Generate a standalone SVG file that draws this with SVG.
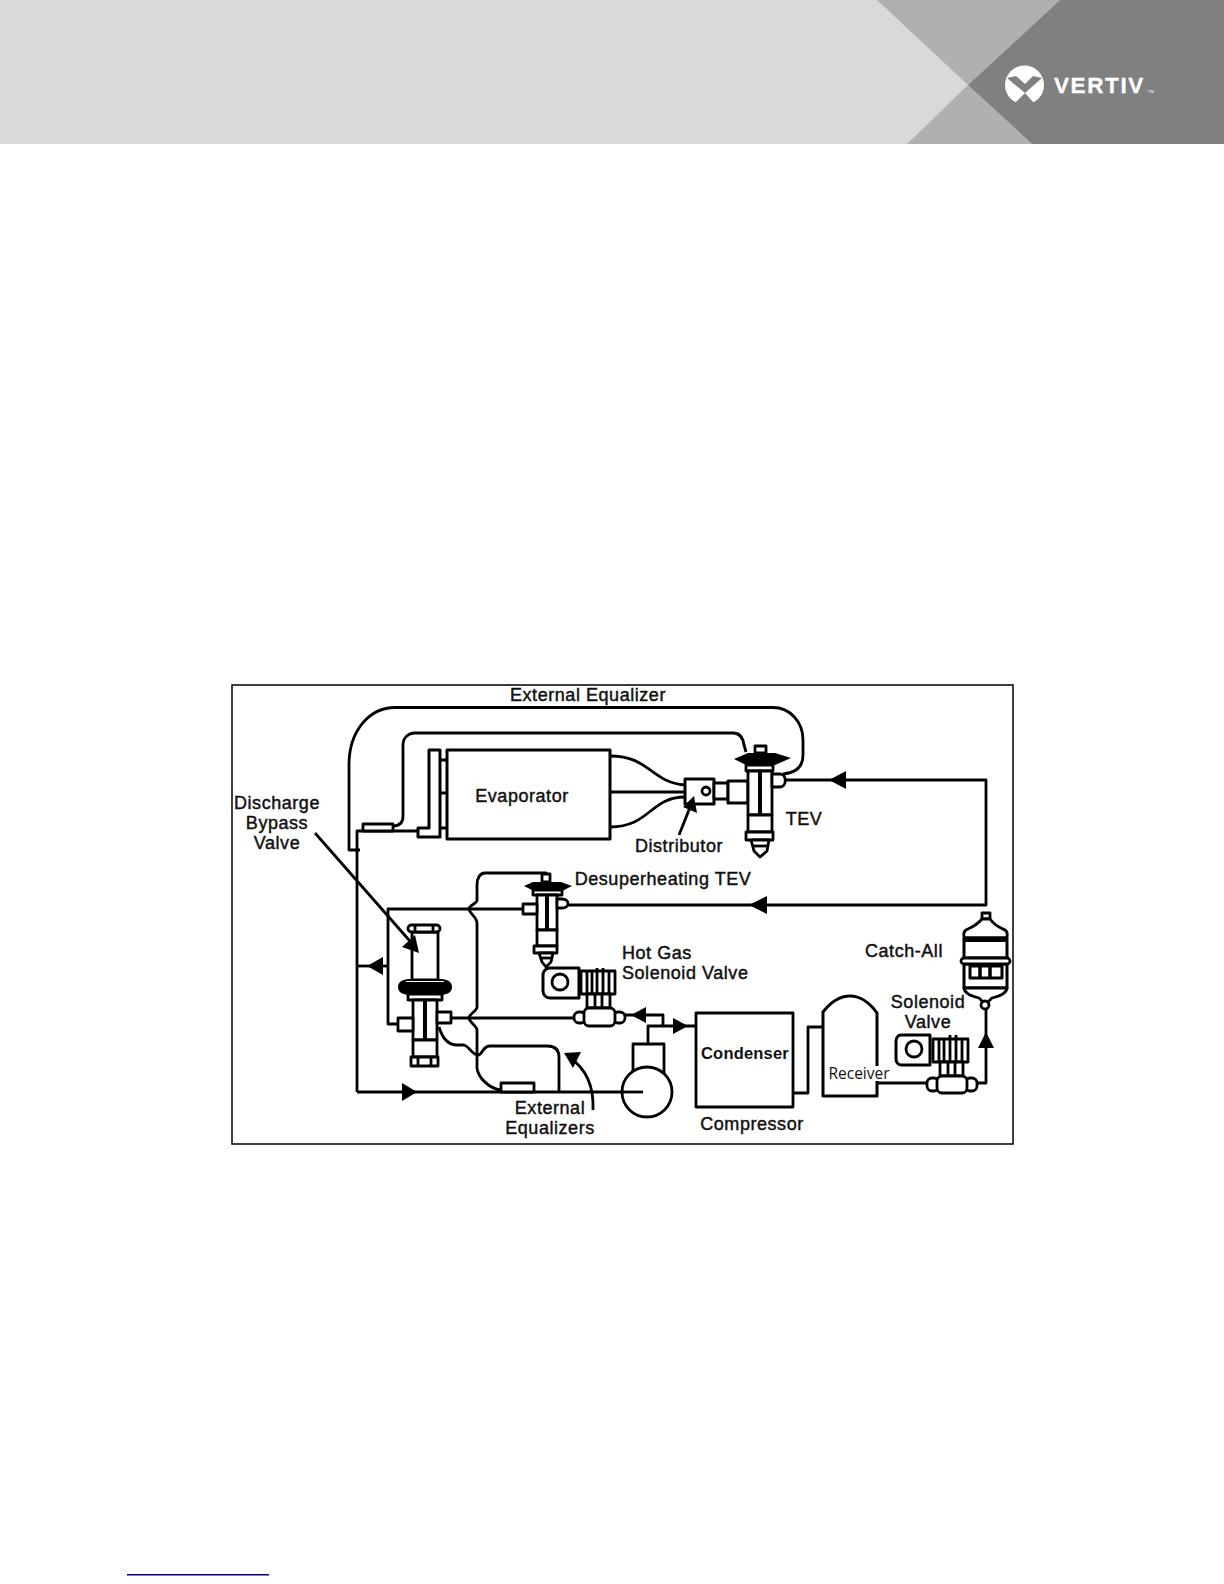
<svg xmlns="http://www.w3.org/2000/svg" width="1224" height="1584" viewBox="0 0 1224 1584">
<defs><style>
.l{fill:none;stroke:#000;stroke-width:2.8;stroke-linejoin:round}
.t{fill:none;stroke:#000;stroke-width:3.5;stroke-linejoin:round}
.w{fill:#fff;stroke:#000;stroke-width:2.8;stroke-linejoin:round}
.k{fill:#000;stroke:none}
.tx{font-family:"Liberation Sans",Arial,sans-serif;font-size:18px;letter-spacing:.55px;fill:#111;stroke:#111;stroke-width:.45;text-anchor:middle}
</style></defs>
<rect width="1224" height="1584" fill="#fff"/>
<g id="header">
<rect width="1224" height="144" fill="#d9d9d9"/>
<polygon points="877,0 1060,0 968,85" fill="#b0b0b0"/>
<polygon points="968,85 1032,144 907,144" fill="#b0b0b0"/>
<polygon points="1060,0 1224,0 1224,144 1032,144 968,85" fill="#808080"/>
<circle cx="1024.500" cy="85" r="19.500" fill="#fff"/>
<polygon points="1007,78 1016,76 1025,84 1033,76 1042,78 1025,93" fill="#808080"/>
<polygon points="1025,93 1015,103 1024,108 1034,103" fill="#808080"/>
<text x="1054" y="93" font-family="Liberation Sans,sans-serif" font-weight="bold" font-size="22.500" letter-spacing="1.600" fill="#fff" stroke="#fff" stroke-width=".3">VERTIV</text>
<text x="1148" y="93" font-family="Liberation Sans,sans-serif" font-size="4" fill="#fff">TM</text>
</g>
<rect id="frame" x="232" y="685" width="781" height="459" fill="none" stroke="#000" stroke-width="1.500"/>
<g id="connectors">
<path class="l" d="M360 850H349V765C349 730 370 707.500 395 707.500H773C790 707.500 803 722 803 740V755C803 768 795 773 783 774"/>
<path class="l" d="M393 826C400 826 403 822 403 816V745C403 738 408 733 415 733H733C740 733 743 738 744 745L746 752"/>
<path class="l" d="M357 1092V831H418"/>
<path class="l" d="M610 756C650 756 650 782 685 785M610 792H685M610 827C650 827 650 797 685 797"/>
<path class="l" d="M785 780H986V905H568"/>
<path class="l" d="M986 1005V1083H977"/>
<path class="l" d="M878 1083H927"/>
<path class="l" d="M793 1093H808V1027H823"/>
<path class="l" d="M388 966H357"/>
<path class="l" d="M398 1024H388V909H523"/>
<path class="l" d="M452 1018H574"/>
<path class="l" d="M546 875V873H485C480 873 477 878 477 885V900C477 904 469 905 469 909C469 913 477 917 477 923V1007C477 1011 469 1014 469 1018C469 1022 477 1026 477 1030V1068C478 1078 490 1089 501 1090"/>
<path class="l" d="M439 1027C442 1037 448 1045 457 1045H464C470 1047 472 1055 478 1055C483 1055 482 1046 490 1046H547C555 1046 559 1050 559 1057V1092"/>
<path class="l" d="M357 1092H645"/>
<path class="l" d="M625 1015H663V1026M648 1043V1026H696"/>
<path class="k" d="M829 780L846 771V789Z"/>
<path class="k" d="M749 905L767 896V914Z"/>
<path class="k" d="M986 1032L978 1048H994Z"/>
<path class="k" d="M367 966L383 957V975Z"/>
<path class="k" d="M417 1092L402 1083V1101Z"/>
<path class="k" d="M631 1015L646 1007V1023Z"/>
<path class="k" d="M688 1026L673 1018V1034Z"/>
<path class="l" d="M593 1110C594 1085 585 1068 570 1058"/>
<path class="k" d="M564 1053L581 1052L573 1068Z"/>
</g>
<g id="evaporator">
<rect class="t" x="447" y="750" width="163" height="89" style="stroke-width:3"/>
<path class="w" d="M429 750H440V837H418V828H429Z" style="stroke-width:3"/>
<path class="l" d="M440 760H447M440 793H447M440 828H447"/>
<text class="tx" x="522" y="802">Evaporator</text>
</g>
<g id="bulb1"><rect class="w" x="363" y="824" width="30" height="7"/></g>
<g id="distributor">
<rect class="w" x="685" y="779" width="29" height="25" style="stroke-width:3"/>
<circle class="l" cx="706" cy="791" r="4"/>
<rect class="w" x="714" y="783" width="14" height="16"/>
<rect class="w" x="728" y="781" width="20" height="22" style="stroke-width:3"/>
<text class="tx" x="679" y="852">Distributor</text>
</g>
<g id="tev">
<rect class="w" x="755" y="746" width="11" height="7"/>
<path class="k" d="M734 759L748 753H775L791 758L775 765H746Z"/>
<rect class="w" x="746" y="765" width="27" height="6"/>
<rect class="w" x="748" y="771" width="24" height="44"/>
<path class="l" d="M760 771V815" style="stroke-width:4"/>
<rect class="w" x="748" y="815" width="24" height="17"/>
<rect class="w" x="746" y="832" width="27" height="8"/>
<path class="w" d="M751 840H769L767 851L760 857L754 851Z"/>
<path class="l" d="M752 846H768"/>
<path class="w" d="M772 774H780C787 774 787 787 780 787H772Z"/>
<text class="tx" x="804" y="825">TEV</text>
</g>
<g id="desuper-tev">
<rect class="w" x="542" y="874" width="8" height="8"/>
<path class="k" d="M524 886L533 882H561L572 886L562 891H534Z"/>
<rect class="w" x="533" y="890" width="29" height="5"/>
<rect class="w" x="537" y="895" width="20" height="35"/>
<path class="l" d="M547 895V930" style="stroke-width:4"/>
<rect class="w" x="537" y="930" width="20" height="16"/>
<rect class="w" x="534" y="946" width="23" height="7"/>
<path class="w" d="M539 953H553L551 962L546 967L542 962Z"/>
<path class="l" d="M540 958H552"/>
<rect class="w" x="523" y="904" width="14" height="10"/>
<path class="w" d="M557 899H562C570 899 570 908 562 908H557Z"/>
<text class="tx" x="663" y="885">Desuperheating TEV</text>
</g>
<g id="bypass-valve">
<rect class="w" x="412" y="932" width="26" height="48"/>
<rect class="w" x="408" y="925" width="32" height="7" rx="3.500"/>
<path class="l" d="M415 925V932M433 925V932"/>
<path class="k" d="M398 987C398 981 404 979 410 979H440C446 979 452 981 452 987C452 993 446 995 440 995H410C404 995 398 993 398 987Z"/>
<path d="M406 981.500H444" stroke="#fff" stroke-width="1" fill="none"/>
<rect class="w" x="408" y="994" width="34" height="6"/>
<rect class="w" x="413" y="1000" width="24" height="40"/>
<path class="l" d="M425 1000V1040" style="stroke-width:4"/>
<rect class="w" x="413" y="1040" width="24" height="17"/>
<rect class="w" x="411" y="1057" width="27" height="9"/>
<path class="l" d="M418 1057V1066M431 1057V1066"/>
<rect class="w" x="398" y="1018" width="15" height="13"/>
<rect class="w" x="437" y="1012" width="14" height="11"/>
<text class="tx" x="277" y="809">Discharge</text>
<text class="tx" x="277" y="829">Bypass</text>
<text class="tx" x="277" y="849">Valve</text>
</g>
<g id="hot-gas-solenoid">
<path class="w" d="M550 968H579V998H550C546 998 543 995 543 991V975C543 971 546 968 550 968Z" style="stroke-width:3"/>
<circle class="l" cx="560" cy="982" r="8"/>
<rect class="w" x="581" y="971" width="34" height="23"/>
<path class="l" d="M587 971V994M592 971V994M597 968V994M603 968V994M609 971V994"/>
<rect class="w" x="587" y="994" width="23" height="14"/>
<path class="l" d="M595 994V1008M602 994V1008"/>
<rect class="w" x="574" y="1012" width="12" height="11" rx="5"/>
<rect class="w" x="613" y="1012" width="12" height="11" rx="5"/>
<rect class="w" x="584" y="1008" width="31" height="18" rx="5"/>
<text class="tx" x="622" y="959" style="text-anchor:start">Hot Gas</text>
<text class="tx" x="622" y="979" style="text-anchor:start">Solenoid Valve</text>
</g>
<g id="bulb2"><rect class="w" x="501" y="1083" width="33" height="9"/></g>
<g id="compressor">
<rect class="w" x="633" y="1044" width="31" height="30"/>
<circle class="l" cx="647" cy="1092" r="25" style="fill:#fff"/>
<path class="l" d="M622 1092H643"/>
<text class="tx" x="752" y="1130">Compressor</text>
</g>
<g id="condenser">
<rect class="l" x="696" y="1013" width="97" height="94"/>
<text class="tx" x="745" y="1059" style="font-weight:bold;font-size:16.500px;letter-spacing:.2px;stroke:none">Condenser</text>
</g>
<g id="receiver">
<path class="l" d="M823 1096V1012C830 1003 840 996 850 996C860 996 870 1003 877 1013V1096Z" style="stroke-width:3"/>
<rect x="829" y="1066" width="62" height="15" fill="#fff"/>
<text x="859" y="1079" font-family="Open Sans,sans-serif" font-size="15.500" fill="#111" text-anchor="middle">Receiver</text>
</g>
<g id="solenoid-valve">
<path class="w" d="M901 1035H930V1065H901C898 1065 896 1062 896 1059V1041C896 1038 898 1035 901 1035Z" style="stroke-width:3"/>
<circle class="l" cx="914" cy="1049" r="8"/>
<rect class="w" x="933" y="1039" width="35" height="23"/>
<path class="l" d="M939 1039V1062M944 1039V1062M950 1035V1062M956 1035V1062M962 1039V1062"/>
<rect class="w" x="940" y="1062" width="23" height="14"/>
<path class="l" d="M948 1062V1076M955 1062V1076"/>
<rect class="w" x="927" y="1078" width="12" height="13" rx="5"/>
<rect class="w" x="965" y="1078" width="12" height="13" rx="5"/>
<rect class="w" x="937" y="1076" width="30" height="17" rx="5"/>
<text class="tx" x="928" y="1008">Solenoid</text>
<text class="tx" x="928" y="1028">Valve</text>
</g>
<g id="catch-all">
<rect class="w" x="982" y="913" width="8" height="6"/>
<path class="w" d="M982 919C976 926 970 928 966 930C963 932 963 938 966 938H1005C1008 938 1008 932 1005 930C1001 928 995 926 990 919Z"/>
<path class="w" d="M964 938H1007V958H964Z" style="stroke-width:3"/>
<path class="l" d="M964 940H1007" style="stroke-width:4"/>
<path class="w" d="M964 964H1007V988H964Z" style="stroke-width:3"/>
<rect class="w" x="961" y="958" width="49" height="6" rx="3"/>
<rect class="w" x="970" y="966" width="32" height="12" style="stroke-width:3"/>
<path class="l" d="M980 966V978M990 966V978" style="stroke-width:3.500"/>
<path class="w" d="M964 988H1007C1007 993 1000 996 992 998L988 1002H983L979 998C971 996 964 993 964 988Z"/>
<circle class="w" cx="985" cy="1005" r="4"/>
<text class="tx" x="904" y="957">Catch-All</text>
</g>
<g id="pointers">
<path class="l" d="M315 833L416 948"/>
<path class="k" d="M419 953L402 947L415 935Z"/>
<path class="l" d="M679 835L691 805"/>
<path class="k" d="M694 796L683 807L697 813Z"/>
</g>
<text class="tx" x="588" y="701" id="ext-eq-label">External Equalizer</text>
<text class="tx" x="550" y="1114">External</text>
<text class="tx" x="550" y="1134">Equalizers</text>
<rect id="footer-link" x="127" y="1574" width="142" height="1.500" fill="#000080"/>
</svg>
